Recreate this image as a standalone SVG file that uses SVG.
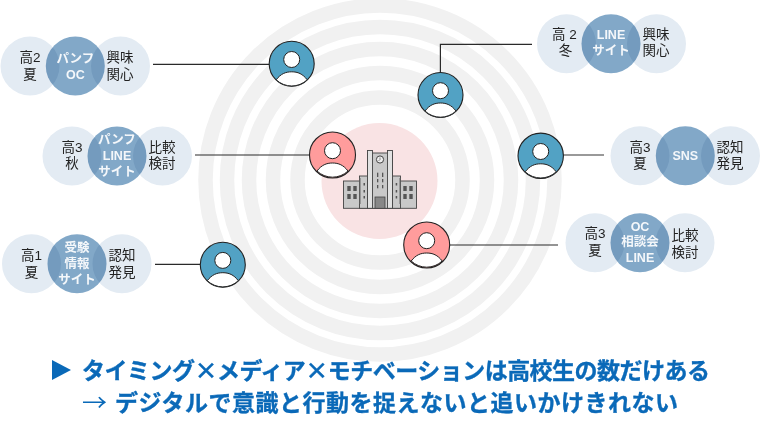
<svg xmlns="http://www.w3.org/2000/svg" width="760" height="435" viewBox="0 0 760 435">
<style>
text{font-family:"Liberation Sans","Noto Sans CJK JP",sans-serif;text-anchor:middle}
.l{font-size:13.500px;fill:#222}
.m{font-size:12.500px;font-weight:700;fill:#f4f7fa}
.side{fill:#e3ebf3}
.mid{fill:#82a8c8;mix-blend-mode:multiply}
.ring{fill:none;stroke:#f1f1f1;stroke-width:14.500}
.cn{fill:none;stroke:#2a2a2a;stroke-width:1.200}
.cg{stroke:#777;stroke-width:1.500}
.b{fill:#52a2c4;stroke:#222;stroke-width:1.100}
.r{fill:#ff9c9c;stroke:#222;stroke-width:1.100}
.w{fill:#fff;stroke:#222;stroke-width:1}
.h{font-family:"Noto Sans CJK JP","Liberation Sans",sans-serif;font-size:23px;font-weight:700;fill:#0a69b8;stroke:#0a69b8;stroke-width:.35;text-anchor:start}
.bd{fill:#c9c9c9;stroke:#444;stroke-width:.9}
.pl{fill:#e2e2e2;stroke:#444;stroke-width:.9}
.wn{fill:#555}
</style>
<defs>
<g id="person"><circle cx="0" cy="-4.300" r="8" class="w"/><path d="M-15.500 16C-11 10-6 8 0 8S11 10 15.500 16A22.500 22.500 0 0 1-15.500 16Z" class="w"/></g>
</defs>
<g id="rings">
<circle class="ring" cx="380" cy="180" r="174.500"/>
<circle class="ring" cx="380" cy="180" r="153"/>
<circle class="ring" cx="380" cy="180" r="131"/>
<circle class="ring" cx="380" cy="180" r="107"/>
<circle class="ring" cx="380" cy="180" r="82.500"/>
<circle cx="379.500" cy="181" r="58" fill="#f9e3e4"/>
</g>
<g id="connectors">
<path class="cn" d="M153 64.400H269"/>
<path class="cn" d="M195 155H310"/>
<path class="cn" d="M155 264.400H200"/>
<path class="cn" d="M440.400 73V44.300H532"/>
<path class="cn cg" d="M563 155H604"/>
<path class="cn" d="M449 245H558"/>
</g>
<g id="building">
<rect class="bd" x="343.500" y="181" width="73" height="27.300"/>
<rect class="bd" x="359.500" y="176" width="41" height="32.300"/>
<rect class="bd" x="367.500" y="153" width="25" height="55.300"/>
<rect class="pl" x="367.500" y="150.500" width="5" height="57.800"/>
<rect class="pl" x="387.500" y="150.500" width="5" height="57.800"/>
<circle cx="380" cy="159.500" r="3.600" fill="#eee" stroke="#444"/>
<path d="M380 157.500V159.500L378.500 161" fill="none" stroke="#444" stroke-width=".6"/>
<rect x="375" y="197" width="10" height="11.300" fill="#888" stroke="#444" stroke-width=".8"/>
<path d="M360 178V204M400 178V204" stroke="#666" stroke-width="1"/>
<g class="wn">
<rect x="347.300" y="186" width="3.400" height="5"/><rect x="353.300" y="186" width="3.400" height="5"/><rect x="347.300" y="194" width="3.400" height="5"/><rect x="353.300" y="194" width="3.400" height="5"/>
<rect x="403.300" y="186" width="3.400" height="5"/><rect x="409.300" y="186" width="3.400" height="5"/><rect x="403.300" y="194" width="3.400" height="5"/><rect x="409.300" y="194" width="3.400" height="5"/>
<rect x="377" y="172.700" width="1.300" height="4.300"/><rect x="382" y="172.700" width="1.300" height="4.300"/><rect x="377" y="179" width="1.300" height="3.300"/><rect x="382" y="179" width="1.300" height="3.300"/><rect x="377" y="185" width="1.300" height="3.300"/><rect x="382" y="185" width="1.300" height="3.300"/>
<rect x="363.500" y="183" width="1.500" height="2.500"/><rect x="363.500" y="190" width="1.500" height="2.500"/><rect x="363.500" y="196" width="1.500" height="2.500"/><rect x="395.700" y="183" width="1.500" height="2.500"/><rect x="395.700" y="190" width="1.500" height="2.500"/><rect x="395.700" y="196" width="1.500" height="2.500"/>
</g>
</g>
<g id="p1"><circle cx="291.700" cy="63.800" r="22.500" class="b"/><use href="#person" x="291.700" y="63.800"/></g>
<g id="p2"><circle cx="332.500" cy="155" r="23" class="r"/><use href="#person" x="332.500" y="155"/></g>
<g id="p3"><circle cx="222.800" cy="264.700" r="22.500" class="b"/><use href="#person" x="222.800" y="264.700"/></g>
<g id="p4"><circle cx="440.500" cy="95" r="22.500" class="b"/><use href="#person" x="440.500" y="95"/></g>
<g id="p5"><circle cx="540.700" cy="155.800" r="22.700" class="b"/><use href="#person" x="540.700" y="155.800"/></g>
<g id="p6"><circle cx="426.700" cy="245" r="23" class="r"/><use href="#person" x="426.700" y="245"/></g>
<g id="n1"><circle class="side" cx="30" cy="66" r="29.500"/><circle class="side" cx="120.500" cy="66" r="29.500"/><circle class="mid" cx="75.300" cy="66" r="29.500"/>
<text class="l"><tspan x="30" y="62">高2</tspan><tspan x="30" y="78.500">夏</tspan></text><text class="l"><tspan x="120" y="62">興味</tspan><tspan x="120" y="78.500">関心</tspan></text><text class="m"><tspan x="75.300" y="62.500">パンフ</tspan><tspan x="75.300" y="79">OC</tspan></text></g>
<g id="n2"><circle class="side" cx="72" cy="156" r="29.500"/><circle class="side" cx="162.500" cy="156" r="29.500"/><circle class="mid" cx="117" cy="156" r="29.500"/>
<text class="l"><tspan x="72" y="151.500">高3</tspan><tspan x="72" y="168">秋</tspan></text><text class="l"><tspan x="162" y="151.500">比較</tspan><tspan x="162" y="168">検討</tspan></text><text class="m"><tspan x="117" y="143.500">パンフ</tspan><tspan x="117" y="160">LINE</tspan><tspan x="117" y="175.500">サイト</tspan></text></g>
<g id="n3"><circle class="side" cx="31.500" cy="263.700" r="29.500"/><circle class="side" cx="122" cy="263.700" r="29.500"/><circle class="mid" cx="77" cy="263.700" r="29.500"/>
<text class="l"><tspan x="31.500" y="260">高1</tspan><tspan x="31.500" y="276.500">夏</tspan></text><text class="l"><tspan x="122" y="260">認知</tspan><tspan x="122" y="276.500">発見</tspan></text><text class="m"><tspan x="77" y="252">受験</tspan><tspan x="77" y="267.500">情報</tspan><tspan x="77" y="284">サイト</tspan></text></g>
<g id="n4"><circle class="side" cx="566.500" cy="43.700" r="29.500"/><circle class="side" cx="656.500" cy="43.700" r="29.500"/><circle class="mid" cx="611" cy="43.700" r="29.500"/>
<text class="l"><tspan x="564.500" y="39">高 2</tspan><tspan x="565.500" y="55">冬</tspan></text><text class="l"><tspan x="656" y="39">興味</tspan><tspan x="656" y="55">関心</tspan></text><text class="m"><tspan x="611" y="39">LINE</tspan><tspan x="611" y="54.500">サイト</tspan></text></g>
<g id="n5"><circle class="side" cx="640" cy="155.700" r="29.500"/><circle class="side" cx="730.500" cy="155.700" r="29.500"/><circle class="mid" cx="685.300" cy="155.700" r="29.500"/>
<text class="l"><tspan x="640" y="151.500">高3</tspan><tspan x="640" y="168">夏</tspan></text><text class="l"><tspan x="730" y="151.500">認知</tspan><tspan x="730" y="168">発見</tspan></text><text class="m" x="685.300" y="159.500">SNS</text></g>
<g id="n6"><circle class="side" cx="595" cy="242.800" r="29.500"/><circle class="side" cx="685" cy="242.800" r="29.500"/><circle class="mid" cx="640" cy="242.800" r="29.500"/>
<text class="l"><tspan x="595" y="238">高3</tspan><tspan x="595" y="255">夏</tspan></text><text class="l"><tspan x="685" y="240">比較</tspan><tspan x="685" y="256.500">検討</tspan></text><text class="m"><tspan x="640" y="230.500">OC</tspan><tspan x="640" y="246">相談会</tspan><tspan x="640" y="262">LINE</tspan></text></g>
<g id="headline">
<path d="M52 360L71 370L52 380Z" fill="#0a69b8"/>
<text class="h" x="82" y="379" textLength="628">タイミング×メディア×モチベーションは高校生の数だけある</text>
<text class="h" x="82" y="411" style="font-weight:400;stroke:none" textLength="25" lengthAdjust="spacingAndGlyphs">→</text>
<text class="h" x="115" y="411" textLength="563">デジタルで意識と行動を捉えないと追いかけきれない</text>
</g>
</svg>
